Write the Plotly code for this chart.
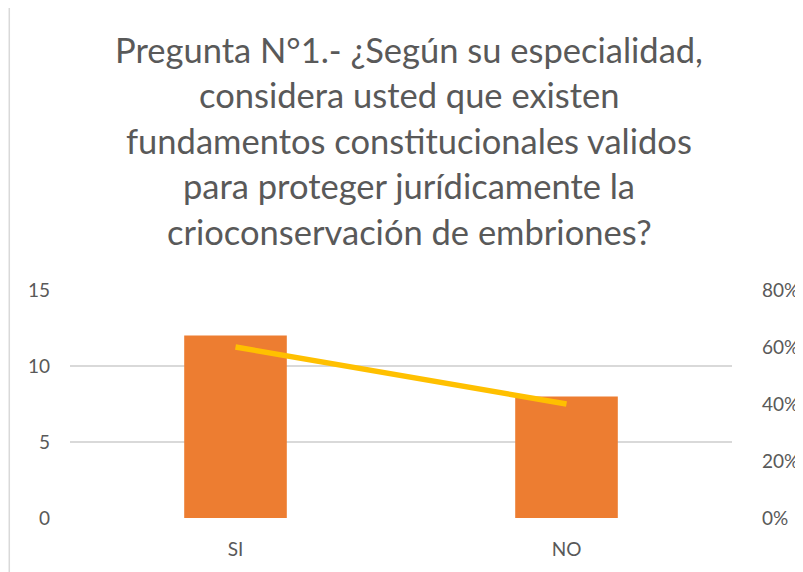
import plotly.graph_objects as go

categories = ["SI", "NO"]
counts = [12, 8]
percents = [0.60, 0.40]

title_lines = [
    "Pregunta N°1.- ¿Según su especialidad,",
    "considera usted que existen",
    "fundamentos constitucionales validos",
    "para proteger jurídicamente la",
    "crioconservación de embriones?",
]

W, H = 803, 572
ml, mr, mt, mb = 62, 76, 282, 62
pw = W - ml - mr
ph = H - mt - mb

fig = go.Figure()
fig.add_trace(go.Bar(
    x=categories, y=counts,
    marker=dict(color="#ED7D31", line=dict(width=0)),
    width=0.31, showlegend=False,
))
fig.add_trace(go.Scatter(
    x=categories, y=percents, yaxis="y2", mode="lines",
    line=dict(color="#FFC000", width=5.5),
    showlegend=False,
))

# chart border at the left edge
fig.add_shape(type="line", xref="paper", yref="paper",
              x0=(1 - ml) / pw, x1=(1 - ml) / pw, y0=-1, y1=3,
              line=dict(color="#D9D9D9", width=1.5))

# title, one annotation per line for Excel-like spacing
for i, line in enumerate(title_lines):
    py = 41 + i * 45.5
    fig.add_annotation(text=line, xref="paper", yref="paper",
                       x=(403 - ml) / pw, y=(H - mb - py) / ph,
                       xanchor="center", yanchor="middle", showarrow=False,
                       font=dict(size=34.5, color="#595959"))

fig.update_layout(
    width=W, height=H,
    margin=dict(l=ml, r=mr, t=mt, b=mb),
    paper_bgcolor="white", plot_bgcolor="white",
    font=dict(family="Lato, 'Open Sans', sans-serif", color="#595959", size=19),
    xaxis=dict(showgrid=False, zeroline=False, showline=False,
               ticks="", ticklabelstandoff=18, tickfont=dict(size=19)),
    yaxis=dict(range=[0, 15], tickvals=[0, 5, 10, 15],
               showgrid=True, gridcolor="#D9D9D9", gridwidth=1.5,
               zeroline=False, showline=False, ticks="",
               ticklabelstandoff=19),
    yaxis2=dict(range=[0, 0.8], tickvals=[0, 0.2, 0.4, 0.6, 0.8],
                tickformat=".0%", overlaying="y", side="right",
                showgrid=False, zeroline=False, showline=False, ticks="",
                ticklabelstandoff=29),
)

fig.write_html("out.html")
